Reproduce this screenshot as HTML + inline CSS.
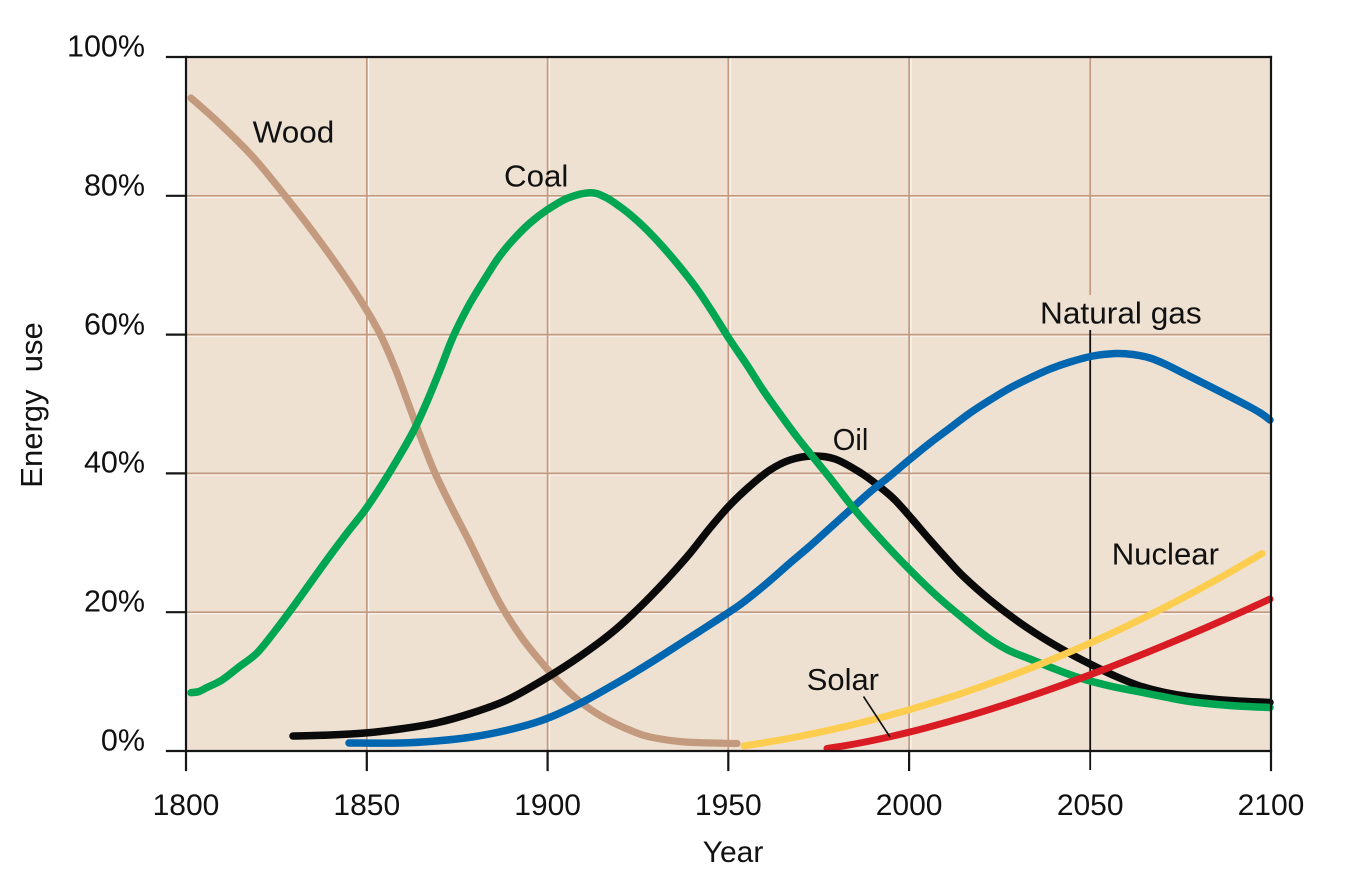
<!DOCTYPE html>
<html>
<head>
<meta charset="utf-8">
<style>
  html, body { margin:0; padding:0; background:#ffffff; }
  body { width:1350px; height:875px; overflow:hidden; }
  svg { display:block; }
  text { font-family: "Liberation Sans", "DejaVu Sans", sans-serif; fill:#111; }
</style>
</head>
<body>
<svg id="chart" width="1350" height="875" viewBox="0 0 1350 875" xmlns="http://www.w3.org/2000/svg">
  <!-- plot background -->
  <rect x="186" y="57" width="1085" height="694" fill="#eee1d2"/>

  <!-- grid white highlights -->
  <g stroke="#fbf6ef" stroke-width="1.2" fill="none">
    <line x1="368.6" y1="57" x2="368.6" y2="751"/>
    <line x1="549.4" y1="57" x2="549.4" y2="751"/>
    <line x1="730.1" y1="57" x2="730.1" y2="751"/>
    <line x1="910.9" y1="57" x2="910.9" y2="751"/>
    <line x1="186" y1="197.4" x2="1271" y2="197.4"/>
    <line x1="186" y1="336.2" x2="1271" y2="336.2"/>
    <line x1="186" y1="475" x2="1271" y2="475"/>
    <line x1="186" y1="613.8" x2="1271" y2="613.8"/>
  </g>
  <!-- grid brown lines -->
  <g stroke="#c39a80" stroke-width="1.7" fill="none">
    <line x1="366.8" y1="57" x2="366.8" y2="751"/>
    <line x1="547.6" y1="57" x2="547.6" y2="751"/>
    <line x1="728.3" y1="57" x2="728.3" y2="751"/>
    <line x1="909.1" y1="57" x2="909.1" y2="751"/>
    <line x1="1090.2" y1="57" x2="1090.2" y2="295"/>
    <line x1="186" y1="195.8" x2="1271" y2="195.8"/>
    <line x1="186" y1="334.6" x2="1271" y2="334.6"/>
    <line x1="186" y1="473.4" x2="1271" y2="473.4"/>
    <line x1="186" y1="612.2" x2="1271" y2="612.2"/>
  </g>

  <!-- 2050 marker line -->
  <line x1="1090.2" y1="330" x2="1090.2" y2="770" stroke="#111" stroke-width="1.8"/>

  <!-- curves -->
  <g fill="none" stroke-linecap="round" stroke-linejoin="round">
    <!-- Wood -->
    <polyline class="smooth" stroke="#c39a7e" stroke-width="7.2" points="191,98 219,123 253,157 286,197 319,240 352,287 378,330 395,368 407,400 421,438 435,473 452,508 469,541 486,576 502,607 522,638 542,663 560,683 578,700 596,713 614,723 632,731 650,737 685,742 737,743.5"/>
    <!-- Oil (black) -->
    <polyline class="smooth" stroke="#0a0a0a" stroke-width="7.5" points="293,736 330,735 365,733 400,729 436,723 472,713 507,700 543,680 579,657 615,630 650,597 686,558 710,528 730,505 750,486 770,470 790,460 812,456 835,459 861,473 880,487 895,500 912,519 930,540 947,559 964,577 990,600 1016,620 1043,638 1067,652 1090,664 1115,676 1140,686 1165,692.5 1190,696.7 1230,700.5 1270,702.5"/>
    <!-- Natural gas (blue) -->
    <polyline class="smooth" stroke="#0066b0" stroke-width="7.5" points="349,743 400,743 436,741 472,737 508,730 543,720 579,704 615,684 650,663 686,640 714,622 741,604 766,584 790,563 810,546 830,528 850,510 870,492 890,476 909,460 930,443 950,428 970,413 990,400 1010,388 1030,378 1050,369 1070,362 1093,356 1116,353.5 1133,354.5 1150,358 1166,364.5 1183,373 1217,390 1250,407 1262,414 1270,420"/>
    <!-- Coal (green) -->
    <polyline class="smooth" stroke="#00a651" stroke-width="7.5" points="191,692.7 199,691.5 207,687.5 222,680 239,667 257,653 275,631 293,607 311,582 329,557 347,533 365,510 383,483 400,455 414,430 426,404 440,370 453,337 469,305 486,277 499,257 513,240 530,223 547,210 568,198 590,192.7 605,197 620,206.7 633,217 647,230 663,247 680,267 697,289 713,313 730,340 747,365 763,390 780,414 797,437 813,457 830,478 847,500 861,517 887,546 913,573 938,597 964,619 987,637 1008,650 1030,659 1055,669 1080,678 1110,686 1140,692 1165,697 1190,701.5 1230,705.5 1270,707.5"/>
    <!-- Nuclear (yellow) -->
    <polyline id="nuc" class="smooth" stroke="#fdcd4f" stroke-width="7" points="744,745 780,740 813,733 847,725 878,716 909,707 944,697 980,687 1013,673 1047,658 1091,640 1115,630.5 1140,620 1165,608.5 1190,596.7 1215,583.5 1240,570 1252,562 1262,553.5"/>
    <!-- Solar (red) -->
    <polyline id="sol" class="smooth" stroke="#d91c24" stroke-width="7" points="827,747.5 858,742 890,736.5 909,731.7 945,722 980,711.7 1010,704 1040,696 1062,688 1085,680 1112,670 1140,660 1165,648.5 1190,636.7 1215,625 1240,613 1255,606.5 1270,600"/>
  </g>

  <!-- solar pointer -->
  <line x1="863.5" y1="696.5" x2="890" y2="737" stroke="#111" stroke-width="1.6"/>

  <!-- axes / frame -->
  <g stroke="#151515" stroke-width="2.2" fill="none" stroke-linecap="square">
    <line x1="186" y1="57" x2="186" y2="770"/>
    <line x1="1271" y1="57" x2="1271" y2="770"/>
    <line x1="167" y1="57" x2="1271" y2="57"/>
    <line x1="167" y1="751" x2="1271" y2="751"/>
    <line x1="167" y1="195.8" x2="186" y2="195.8"/>
    <line x1="167" y1="334.6" x2="186" y2="334.6"/>
    <line x1="167" y1="473.4" x2="186" y2="473.4"/>
    <line x1="167" y1="612.2" x2="186" y2="612.2"/>
    <line x1="366.8" y1="751" x2="366.8" y2="770"/>
    <line x1="547.6" y1="751" x2="547.6" y2="770"/>
    <line x1="728.3" y1="751" x2="728.3" y2="770"/>
    <line x1="909.1" y1="751" x2="909.1" y2="770"/>
  </g>

  <!-- y tick labels -->
  <g font-size="30.5" text-anchor="end">
    <text x="145" y="56.7">100%</text>
    <text x="145" y="195.7">80%</text>
    <text x="145" y="334.5">60%</text>
    <text x="145" y="472.5">40%</text>
    <text x="145" y="611.7">20%</text>
    <text x="145" y="750.7">0%</text>
  </g>

  <!-- x tick labels -->
  <g font-size="30" text-anchor="middle">
    <text x="186" y="815">1800</text>
    <text x="366.8" y="815">1850</text>
    <text x="547.6" y="815">1900</text>
    <text x="728.3" y="815">1950</text>
    <text x="909.1" y="815">2000</text>
    <text x="1090.2" y="815">2050</text>
    <text x="1271" y="815">2100</text>
    <text x="733" y="862">Year</text>
  </g>

  <!-- y axis title -->
  <text font-size="31" text-anchor="middle" transform="translate(42,405) rotate(-90)">Energy&#160; use</text>

  <!-- series labels -->
  <g font-size="31">
    <text x="252.7" y="142.7" textLength="81.6" lengthAdjust="spacingAndGlyphs">Wood</text>
    <text x="504" y="186.7" textLength="64.3" lengthAdjust="spacingAndGlyphs">Coal</text>
    <text x="1040" y="323.3" textLength="161.7" lengthAdjust="spacingAndGlyphs">Natural gas</text>
    <text x="832.7" y="450" textLength="35.6" lengthAdjust="spacingAndGlyphs">Oil</text>
    <text x="1111.7" y="564.3" textLength="107.3" lengthAdjust="spacingAndGlyphs">Nuclear</text>
    <text x="806.7" y="690" textLength="72.3" lengthAdjust="spacingAndGlyphs">Solar</text>
  </g>
</svg>
<script>
(function(){
  var NS = "http://www.w3.org/2000/svg";
  // analytic smooth versions of solar & nuclear
  try {
    var sp = [];
    for (var x = 827; x <= 1270; x += 20) {
      var xx = Math.min(x, 1270);
      sp.push(xx + "," + (751 - 14.3 * Math.pow((xx - 800) / 90, 1.43)).toFixed(2));
    }
    sp.push("1270," + (751 - 14.3 * Math.pow(470 / 90, 1.43)).toFixed(2));
    document.getElementById("sol").setAttribute("points", sp.join(" "));
    var np = [];
    for (var x2 = 744; x2 <= 1262; x2 += 20) {
      var t = x2 - 780;
      np.push(x2 + "," + (751 - (11 + 0.1785 * t + 4.324e-4 * t * t)).toFixed(2));
    }
    var tt = 1262 - 780;
    np.push("1262," + (751 - (11 + 0.1785 * tt + 4.324e-4 * tt * tt)).toFixed(2));
    document.getElementById("nuc").setAttribute("points", np.join(" "));
  } catch (e) {}

  var lines = document.querySelectorAll("polyline.smooth");
  for (var i = 0; i < lines.length; i++) {
    var pl = lines[i];
    var raw = pl.getAttribute("points").trim().split(/\s+/);
    var p = raw.map(function(s){ var a = s.split(","); return [parseFloat(a[0]), parseFloat(a[1])]; });
    if (p.length < 3) continue;
    var d = "M" + p[0][0] + "," + p[0][1];
    for (var k = 0; k < p.length - 1; k++) {
      var p0 = p[k - 1] || p[k], p1 = p[k], p2 = p[k + 1], p3 = p[k + 2] || p2;
      var s = 1 / 6;
      var c1x = p1[0] + (p2[0] - p0[0]) * s, c1y = p1[1] + (p2[1] - p0[1]) * s;
      var c2x = p2[0] - (p3[0] - p1[0]) * s, c2y = p2[1] - (p3[1] - p1[1]) * s;
      d += " C" + c1x.toFixed(2) + "," + c1y.toFixed(2) + " " + c2x.toFixed(2) + "," + c2y.toFixed(2) + " " + p2[0] + "," + p2[1];
    }
    var path = document.createElementNS(NS, "path");
    path.setAttribute("d", d);
    ["stroke", "stroke-width"].forEach(function(a){ path.setAttribute(a, pl.getAttribute(a)); });
    pl.parentNode.replaceChild(path, pl);
  }
})();
</script>
</body>
</html>
